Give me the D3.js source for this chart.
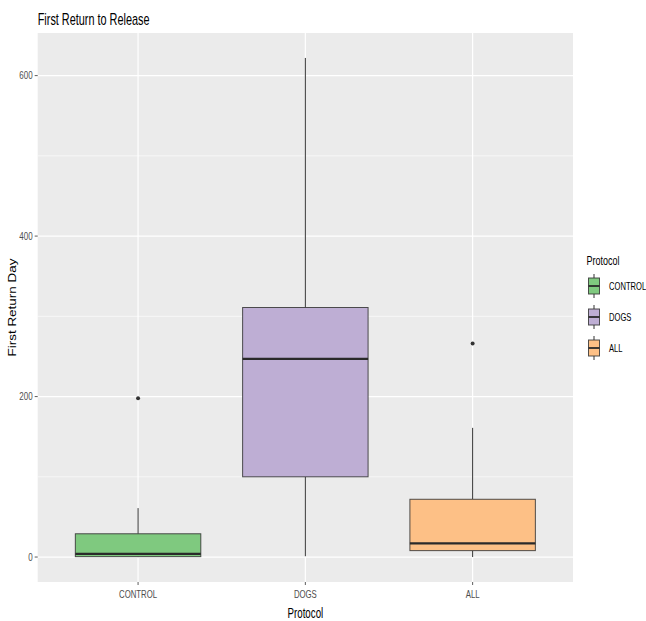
<!DOCTYPE html>
<html>
<head>
<meta charset="utf-8">
<script src="https://cdn.jsdelivr.net/npm/d3@7"></script>
<style>
  body { margin: 0; background: #ffffff; }
  text { font-family: "Liberation Sans", Arial, sans-serif; }
</style>
</head>
<body>
<svg id="chart" width="646" height="621"></svg>
<script>
// Box-plot summary per protocol
const protocols    = ["CONTROL", "DOGS", "ALL"];
const whiskerLow   = [0, 1, 0];
const q1           = [0.5, 100, 8];
const median       = [4, 247, 17];
const q3           = [29, 311, 72];
const whiskerHigh  = [61, 622, 161];
const outliers     = [[198], [], [266]];
const fills        = ["#7fc97f", "#beaed4", "#fdc086"];
const yTicks       = [0, 200, 400, 600];
const yMinorTicks  = [100, 300, 500];

const titleText  = "First Return to Release";
const xTitleText = "Protocol";
const yTitleText = "First Return Day";
const legendTitleText = "Protocol";

const svg = d3.select("#chart");
const panel = { left: 37.7, right: 573, top: 33, bottom: 582 };

const rows = protocols.map((p, i) => ({
  name: p, lo: whiskerLow[i], q1: q1[i], med: median[i], q3: q3[i],
  hi: whiskerHigh[i], out: outliers[i], fill: fills[i]
}));

// y scale with 5% expansion around the data range
const allVals = rows.flatMap(r => [r.lo, r.hi, ...r.out]);
const yMin = d3.min(allVals), yMax = d3.max(allVals);
const pad = (yMax - yMin) * 0.05;
const y = d3.scaleLinear().domain([yMin - pad, yMax + pad]).range([panel.bottom, panel.top]);

// discrete x positions, 0.6 step expansion on each side
const x = d3.scalePoint().domain(protocols).range([panel.left, panel.right]).padding(0.6);
const boxW = x.step() * 0.75;

// helper: horizontally condensed text
function label(g, txt, px, py, size, sx, anchor, color, rot) {
  return g.append("text")
    .attr("transform", `translate(${px},${py}) scale(${sx},1)` + (rot ? ` rotate(${rot})` : ""))
    .attr("font-size", size)
    .attr("text-anchor", anchor)
    .attr("fill", color)
    .text(txt);
}

// panel background
svg.append("rect")
  .attr("x", panel.left).attr("y", panel.top)
  .attr("width", panel.right - panel.left).attr("height", panel.bottom - panel.top)
  .attr("fill", "#ebebeb");

const grid = svg.append("g");
grid.selectAll(".minor").data(yMinorTicks).join("line")
  .attr("x1", panel.left).attr("x2", panel.right)
  .attr("y1", d => y(d)).attr("y2", d => y(d))
  .attr("stroke", "#ffffff").attr("stroke-width", 0.6);
grid.selectAll(".major").data(yTicks).join("line")
  .attr("x1", panel.left).attr("x2", panel.right)
  .attr("y1", d => y(d)).attr("y2", d => y(d))
  .attr("stroke", "#ffffff").attr("stroke-width", 1.2);
grid.selectAll(".vmajor").data(protocols).join("line")
  .attr("x1", d => x(d)).attr("x2", d => x(d))
  .attr("y1", panel.top).attr("y2", panel.bottom)
  .attr("stroke", "#ffffff").attr("stroke-width", 1.2);

// boxes
const boxes = svg.append("g").selectAll("g").data(rows).join("g");
boxes.append("line")
  .attr("x1", d => x(d.name)).attr("x2", d => x(d.name))
  .attr("y1", d => y(d.hi)).attr("y2", d => y(d.q3))
  .attr("stroke", "#333333").attr("stroke-width", 1);
boxes.append("line")
  .attr("x1", d => x(d.name)).attr("x2", d => x(d.name))
  .attr("y1", d => y(d.q1)).attr("y2", d => y(d.lo))
  .attr("stroke", "#333333").attr("stroke-width", 1);
boxes.append("rect")
  .attr("x", d => x(d.name) - boxW / 2).attr("width", boxW)
  .attr("y", d => y(d.q3)).attr("height", d => y(d.q1) - y(d.q3))
  .attr("fill", d => d.fill)
  .attr("stroke", "#333333").attr("stroke-opacity", 0.85).attr("stroke-width", 1);
boxes.append("line")
  .attr("x1", d => x(d.name) - boxW / 2).attr("x2", d => x(d.name) + boxW / 2)
  .attr("y1", d => y(d.med)).attr("y2", d => y(d.med))
  .attr("stroke", "#2a2a2a").attr("stroke-width", 2.3);
boxes.selectAll("circle").data(d => d.out.map(v => ({ v, name: d.name }))).join("circle")
  .attr("cx", d => x(d.name)).attr("cy", d => y(d.v)).attr("r", 2)
  .attr("fill", "#333333");

// axes: tick marks
const axes = svg.append("g");
axes.selectAll(".yt").data(yTicks).join("line")
  .attr("x1", panel.left - 3).attr("x2", panel.left)
  .attr("y1", d => y(d)).attr("y2", d => y(d))
  .attr("stroke", "#333333").attr("stroke-width", 0.8);
axes.selectAll(".xt").data(protocols).join("line")
  .attr("x1", d => x(d)).attr("x2", d => x(d))
  .attr("y1", panel.bottom).attr("y2", panel.bottom + 3)
  .attr("stroke", "#333333").attr("stroke-width", 0.8);

yTicks.forEach(v => label(axes, String(v), panel.left - 5, y(v) + 3.5, 10, 0.8, "end", "#4d4d4d"));
protocols.forEach(p => label(axes, p, x(p), 598, 10, 0.78, "middle", "#4d4d4d"));

// titles
label(svg, titleText, panel.left, 25, 17, 0.64, "start", "#000000");
label(svg, xTitleText, (panel.left + panel.right) / 2, 618, 15, 0.65, "middle", "#000000");
label(svg, yTitleText, 16, (panel.top + panel.bottom) / 2, 13.5, 0.85, "middle", "#000000", -90);

// legend
const legend = svg.append("g");
label(legend, legendTitleText, 586.5, 265, 12, 0.75, "start", "#000000");
const keyX = 594, keyW = 11;
const keyY = d3.scalePoint().domain(protocols).range([286, 348]);
rows.forEach(r => {
  const cy = keyY(r.name);
  legend.append("line")
    .attr("x1", keyX).attr("x2", keyX).attr("y1", cy - 12).attr("y2", cy + 12)
    .attr("stroke", "#333333").attr("stroke-width", 1);
  legend.append("rect")
    .attr("x", keyX - keyW / 2).attr("width", keyW)
    .attr("y", cy - 8).attr("height", 16)
    .attr("fill", r.fill).attr("stroke", "#333333").attr("stroke-opacity", 0.85).attr("stroke-width", 1);
  legend.append("line")
    .attr("x1", keyX - keyW / 2).attr("x2", keyX + keyW / 2).attr("y1", cy).attr("y2", cy)
    .attr("stroke", "#2a2a2a").attr("stroke-width", 1.8);
  label(legend, r.name, 609, cy + 3.5, 10, 0.76, "start", "#000000");
});
</script>
</body>
</html>
